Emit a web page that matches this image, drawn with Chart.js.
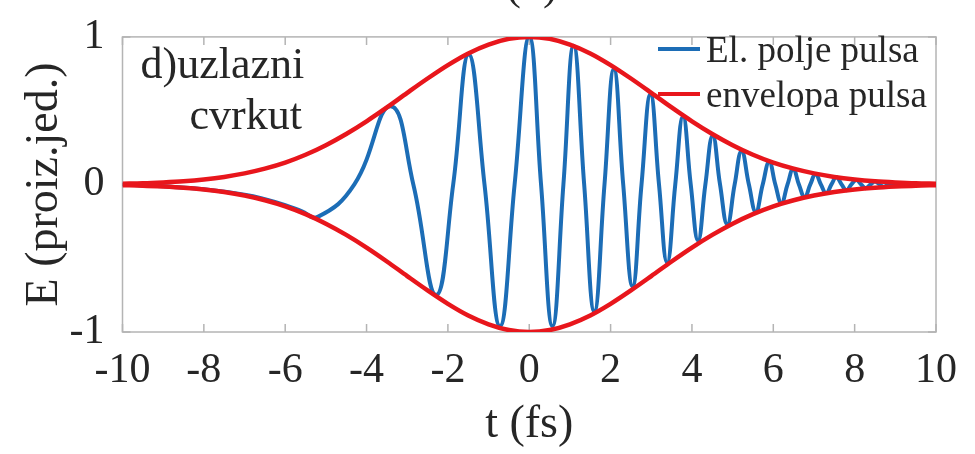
<!DOCTYPE html>
<html>
<head>
<meta charset="utf-8">
<script src="https://cdn.jsdelivr.net/npm/chart.js@4.4.0/dist/chart.umd.min.js"></script>
<style>
  html, body { margin: 0; padding: 0; background: #fff; }
  #wrap { width: 975px; height: 454px; }
</style>
</head>
<body>
<div id="wrap"><canvas id="pulse"></canvas></div>
<script>
const SERIF = "'Liberation Serif', 'Times New Roman', serif";
const INK = '#262626';

// axis ticks
const tTicks = [-10, -8, -6, -4, -2, 0, 2, 4, 6, 8, 10];
const eTicks = [-1, 0, 1];

// pulse envelope, sampled every 0.5 fs
const tEnv = [-10, -9.5, -9, -8.5, -8, -7.5, -7, -6.5, -6, -5.5, -5, -4.5, -4, -3.5, -3, -2.5, -2, -1.5, -1, -0.5,
  0, 0.5, 1, 1.5, 2, 2.5, 3, 3.5, 4, 4.5, 5, 5.5, 6, 6.5, 7, 7.5, 8, 8.5, 9, 9.5, 10];
const eEnv = [0.005, 0.008, 0.014, 0.022, 0.034, 0.051, 0.075, 0.107, 0.148, 0.201, 0.266, 0.342, 0.428, 0.522, 0.621, 0.718, 0.809, 0.888, 0.948, 0.987,
  1, 0.987, 0.948, 0.888, 0.809, 0.718, 0.621, 0.522, 0.428, 0.342, 0.266, 0.201, 0.148, 0.107, 0.075, 0.051, 0.034, 0.022, 0.014, 0.008, 0.005];

// electric field: slow tail, then extrema and zero crossings of the up-chirp
const tField = [-10, -9, -8, -7, -6.5, -6, -5.6, -5.2,
  -4.3, -3.41, -2.85, -2.29, -1.87, -1.49, -1.1, -0.72, -0.36, 0,
  0.29, 0.57, 0.84, 1.09, 1.35, 1.6, 1.85, 2.08, 2.31, 2.54,
  2.76, 2.98, 3.19, 3.39, 3.59, 3.78, 3.97, 4.15, 4.33, 4.51,
  4.69, 4.87, 5.05, 5.22, 5.4, 5.57, 5.74, 5.9, 6.05, 6.2,
  6.35, 6.49, 6.63, 6.77, 6.91, 7.04, 7.17, 7.3, 7.43, 7.55,
  7.68, 7.8, 7.92, 8.04, 8.16, 8.27, 8.39, 8.5, 8.61, 8.72,
  8.83, 10];
const eField = [0, -0.013, -0.033, -0.07, -0.1, -0.14, -0.18, -0.22,
  0, 0.53, 0, -0.75, 0, 0.88, 0, -0.96, 0, 1,
  0, -0.96, 0, 0.94, 0, -0.86, 0, 0.78, 0, -0.69, 0, 0.61,
  0, -0.53, 0, 0.46, 0, -0.38, 0, 0.33, 0, -0.27,
  0, 0.225, 0, -0.185, 0, 0.152, 0, -0.125, 0, 0.104,
  0, -0.085, 0, 0.07, 0, -0.058, 0, 0.048, 0, -0.039,
  0, 0.031, 0, -0.025, 0, 0.02, 0, -0.016, 0, 0];

const pts = (xs, ys) => xs.map((x, i) => ({ x, y: ys[i] }));

const BLUE = '#1c6db6';
const RED = '#e8161c';

// box, inward ticks, legend and panel text
const framePlugin = {
  id: 'frame',
  beforeDatasetsDraw(chart) {
    const { ctx, chartArea: a, scales: { x, y } } = chart;
    ctx.save();
    ctx.strokeStyle = '#b4b4b4';
    ctx.lineWidth = 1.5;
    ctx.strokeRect(a.left, a.top, a.right - a.left, a.bottom - a.top);
    ctx.beginPath();
    tTicks.forEach(v => {
      const px = x.getPixelForValue(v);
      ctx.moveTo(px, a.bottom); ctx.lineTo(px, a.bottom - 8);
      ctx.moveTo(px, a.top); ctx.lineTo(px, a.top + 8);
    });
    eTicks.forEach(v => {
      const py = y.getPixelForValue(v);
      ctx.moveTo(a.left, py); ctx.lineTo(a.left + 8, py);
      ctx.moveTo(a.right, py); ctx.lineTo(a.right - 8, py);
    });
    ctx.stroke();
    ctx.restore();
  },
  afterDraw(chart) {
    const { ctx, chartArea: a } = chart;
    ctx.save();
    ctx.fillStyle = INK;
    ctx.textBaseline = 'alphabetic';

    // panel title, mostly above the canvas
    ctx.font = `44px ${SERIF}`;
    ctx.textAlign = 'center';
    ctx.fillText('(d)', 532, -1);

    // panel label
    ctx.textAlign = 'left';
    ctx.fillText('d)uzlazni', a.left + 18, a.top + 41);
    ctx.fillText('cvrkut', a.left + 67, a.top + 92);

    // legend
    ctx.font = `37px ${SERIF}`;
    const rows = chart.data.datasets.filter(d => !d.hideInLegend);
    rows.forEach((d, i) => {
      const ly = a.top + 12 + i * 45;
      ctx.strokeStyle = d.borderColor;
      ctx.lineWidth = 4;
      ctx.beginPath();
      ctx.moveTo(a.right - 278, ly);
      ctx.lineTo(a.right - 236, ly);
      ctx.stroke();
      ctx.fillText(d.label, a.right - 230, ly + 13);
    });
    ctx.restore();
  }
};

new Chart(document.getElementById('pulse'), {
  type: 'line',
  data: {
    datasets: [
      {
        label: 'El. polje pulsa',
        data: pts(tField, eField),
        borderColor: BLUE,
        borderWidth: 4,
        tension: 0.45,
        pointRadius: 0,
        order: 2
      },
      {
        label: 'envelopa pulsa',
        data: pts(tEnv, eEnv),
        borderColor: RED,
        borderWidth: 4.5,
        cubicInterpolationMode: 'monotone',
        pointRadius: 0,
        order: 1
      },
      {
        label: 'envelopa pulsa',
        hideInLegend: true,
        data: pts(tEnv, eEnv.map(v => -v)),
        borderColor: RED,
        borderWidth: 4.5,
        cubicInterpolationMode: 'monotone',
        pointRadius: 0,
        order: 1
      }
    ]
  },
  options: {
    responsive: true,
    maintainAspectRatio: false,
    animation: false,
    events: [],
    layout: { padding: { top: 21, right: 32, left: 0, bottom: 0 } },
    plugins: {
      legend: { display: false },
      tooltip: { enabled: false }
    },
    scales: {
      x: {
        type: 'linear',
        min: -10,
        max: 10,
        afterBuildTicks: s => { s.ticks = tTicks.map(v => ({ value: v })); },
        afterFit: s => { s.height = 122; },
        grid: { display: false, drawTicks: false },
        border: { display: false },
        ticks: {
          autoSkip: false,
          maxRotation: 0,
          padding: 18,
          color: INK,
          font: { family: SERIF, size: 42, lineHeight: 1 }
        },
        title: {
          display: true,
          text: 't (fs)',
          color: INK,
          padding: { top: 0, bottom: 1 },
          font: { family: SERIF, size: 46 }
        }
      },
      y: {
        min: -1,
        max: 1,
        afterBuildTicks: s => { s.ticks = eTicks.map(v => ({ value: v })); },
        afterFit: s => { s.width = 122.5; },
        grid: { display: false, drawTicks: false },
        border: { display: false },
        ticks: {
          padding: 18,
          color: INK,
          font: { family: SERIF, size: 42, lineHeight: 0.9 }
        },
        title: {
          display: true,
          text: 'E (proiz.jed.)',
          color: INK,
          padding: { top: 17, bottom: 0 },
          font: { family: SERIF, size: 46 }
        }
      }
    }
  },
  plugins: [framePlugin]
});
</script>
</body>
</html>
